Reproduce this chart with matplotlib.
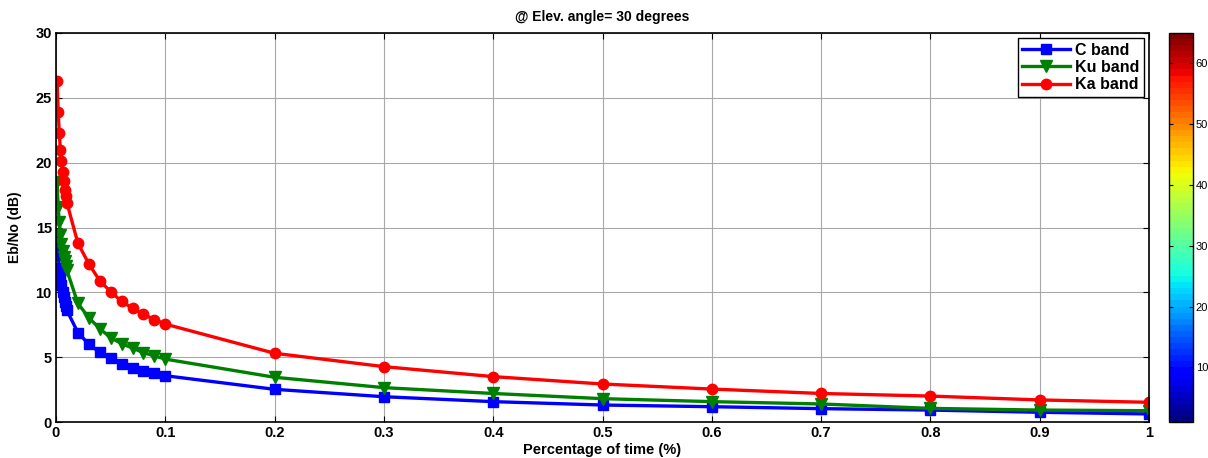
import matplotlib
matplotlib.use("Agg")
import matplotlib.pyplot as plt
import numpy as np
from matplotlib.colors import ListedColormap, Normalize
from matplotlib.colorbar import ColorbarBase

plt.rcParams['font.family'] = ['Liberation Sans', 'DejaVu Sans']

time_pct = [0.001, 0.002, 0.003, 0.004, 0.005, 0.006, 0.007, 0.008, 0.009, 0.01,
            0.02, 0.03, 0.04, 0.05, 0.06, 0.07, 0.08, 0.09, 0.1,
            0.2, 0.3, 0.4, 0.5, 0.6, 0.7, 0.8, 0.9, 1.0]
c_band = [14.4, 12.9, 11.85, 11.2, 10.56, 10.05, 9.66, 9.27, 8.94, 8.6,
          6.9, 6.0, 5.37, 4.9, 4.5, 4.2, 3.95, 3.75, 3.57,
          2.52, 1.95, 1.57, 1.31, 1.18, 1.03, 0.92, 0.75, 0.62]
ku_band = [18.5, 16.6, 15.4, 14.4, 13.7, 13.2, 12.75, 12.4, 12.05, 11.7,
           9.15, 8.05, 7.2, 6.5, 6.05, 5.7, 5.35, 5.1, 4.85,
           3.45, 2.65, 2.2, 1.8, 1.57, 1.39, 1.05, 0.92, 0.87]
ka_band = [26.3, 23.9, 22.3, 21.0, 20.1, 19.3, 18.6, 17.9, 17.4, 16.9,
           13.8, 12.2, 10.9, 10.05, 9.3, 8.77, 8.3, 7.9, 7.55,
           5.3, 4.27, 3.5, 2.93, 2.54, 2.2, 2.0, 1.7, 1.52]
x_ticks = [0, 0.1, 0.2, 0.3, 0.4, 0.5, 0.6, 0.7, 0.8, 0.9, 1]
x_tick_labels = ['0', '0.1', '0.2', '0.3', '0.4', '0.5', '0.6', '0.7', '0.8', '0.9', '1']
y_ticks = [0, 5, 10, 15, 20, 25, 30]
cbar_ticks = [10, 20, 30, 40, 50, 60]

fig = plt.figure(figsize=(12.08, 4.58), dpi=100)
ax = fig.add_axes([56/1208, 1-422/458, (1149-56)/1208, (422-33)/458])

ax.plot(time_pct, c_band, '-s', color='#0000ff', lw=2.4, ms=7.5, label='C band')
ax.plot(time_pct, ku_band, '-v', color='#008000', lw=2.4, ms=8.5, label='Ku band')
ax.plot(time_pct, ka_band, '-o', color='#ff0000', lw=2.4, ms=7.5, label='Ka band')

ax.set_xlim(0, 1)
ax.set_ylim(0, 30)
ax.set_xticks(x_ticks)
ax.set_xticklabels(x_tick_labels)
ax.set_yticks(y_ticks)
ax.grid(True, color='#a8a8a8', lw=0.8)
ax.tick_params(direction='in', top=True, right=True, length=4, width=0.8, labelsize=10.5, pad=3)
for lab in ax.get_xticklabels() + ax.get_yticklabels():
    lab.set_fontweight('bold')
for s in ax.spines.values():
    s.set_linewidth(1.2)
ax.set_title('@ Elev. angle= 30 degrees', fontsize=10, fontweight='bold', pad=9)
ax.set_xlabel('Percentage of time (%)', fontsize=10.5, fontweight='bold', labelpad=2)
ax.set_ylabel('Eb/No (dB)', fontsize=10, fontweight='bold', labelpad=10)

leg = ax.legend(loc='upper right', prop={'weight': 'bold', 'size': 11.5},
                frameon=True, fancybox=False, edgecolor='black', framealpha=1,
                borderpad=0.3, labelspacing=0.15, handlelength=3.0, handletextpad=0.3,
                borderaxespad=0.3)
leg.get_frame().set_linewidth(1.0)

cax = fig.add_axes([1169/1208, 1-422/458, 24/1208, (422-33)/458])
cmap = ListedColormap(plt.get_cmap('jet')(np.linspace(0, 1, 64)))
cb = ColorbarBase(cax, cmap=cmap, norm=Normalize(1, 65), ticks=cbar_ticks)
cb.outline.set_linewidth(1.0)
cax.tick_params(direction='in', length=3, labelsize=8, left=True, right=True, pad=2)

fig.savefig('out.png', dpi=100)
